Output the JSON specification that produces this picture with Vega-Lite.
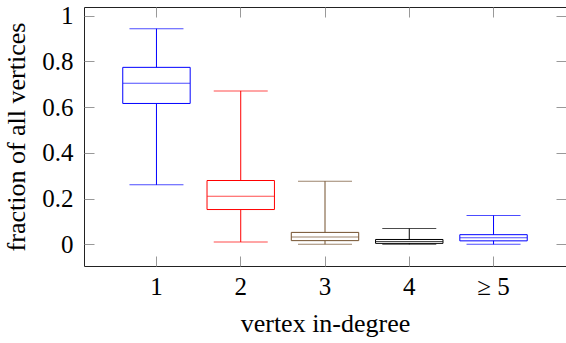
{
  "$schema": "https://vega.github.io/schema/vega-lite/v6.json",
  "autosize": "none",
  "padding": {"left": 84, "top": 7, "right": 0, "bottom": 77},
  "width": 482,
  "height": 259,
  "background": "white",
  "config": {
    "view": {"stroke": "#222", "strokeWidth": 1, "fill": "transparent"},
    "style": {"cell": {"fill": "transparent", "stroke": "#222"}},
    "font": "Liberation Serif",
    "axis": {
      "domain": false,
      "grid": false
    }
  },
  "data": {
    "values": [
      {"deg": "1", "lower": 0.26, "q1": 0.616, "median": 0.704, "q3": 0.774, "upper": 0.943},
      {"deg": "2", "lower": 0.01, "q1": 0.152, "median": 0.21, "q3": 0.279, "upper": 0.671},
      {"deg": "3", "lower": 0.0, "q1": 0.016, "median": 0.032, "q3": 0.052, "upper": 0.276},
      {"deg": "4", "lower": 0.0, "q1": 0.004, "median": 0.012, "q3": 0.021, "upper": 0.069},
      {"deg": "≥ 5", "lower": 0.0, "q1": 0.015, "median": 0.029, "q3": 0.042, "upper": 0.126}
    ]
  },
  "resolve": {"axis": {"x": "independent", "y": "independent"}},
  "layer": [
    {
      "mark": {"type": "rule", "strokeWidth": 1},
      "encoding": {
        "x": {"field": "deg", "type": "nominal", "sort": null,
          "scale": {"type": "band", "paddingInner": 0, "paddingOuter": 0.36},
          "axis": {"orient": "bottom", "title": "vertex in-degree", "labelAngle": 0, "labelPadding": 8, "titlePadding": 11, "bandPosition": 0.5,
            "ticks": true, "tickColor": "#999", "tickWidth": 1, "tickSize": 10, "offset": -10, "zindex": 2,
            "labelFont": "Liberation Serif", "labelFontSize": 25, "labelColor": "black",
            "titleFont": "Liberation Serif", "titleFontSize": 26, "titleFontWeight": "normal", "titleColor": "black"}},
        "y": {"field": "lower", "type": "quantitative",
          "scale": {"domain": [-0.095, 1.038], "nice": false, "zero": false},
          "axis": {"orient": "left", "title": "fraction of all vertices", "values": [0, 0.2, 0.4, 0.6, 0.8, 1], "format": "~g", "labelPadding": 11, "titlePadding": 12,
            "ticks": true, "tickColor": "#999", "tickWidth": 1, "tickSize": 10, "offset": -10, "zindex": 2,
            "labelFont": "Liberation Serif", "labelFontSize": 25, "labelColor": "black",
            "titleFont": "Liberation Serif", "titleFontSize": 26, "titleFontWeight": "normal", "titleColor": "black"}},
        "y2": {"field": "upper"},
        "color": {"field": "deg", "type": "nominal", "sort": null, "legend": null,
          "scale": {"domain": ["1", "2", "3", "4", "≥ 5"], "range": ["#0000ff", "#ff0000", "#73502d", "#000000", "#0000ff"]}}
      }
    },
    {
      "mark": {"type": "bar", "fill": "white", "strokeWidth": 1, "width": {"band": 0.8}},
      "encoding": {
        "x": {"field": "deg", "type": "nominal", "sort": null,
          "axis": {"orient": "top", "title": null, "labels": false, "bandPosition": 0.5,
            "ticks": true, "tickColor": "#999", "tickWidth": 1, "tickSize": 10, "offset": -10, "zindex": 2}},
        "y": {"field": "q1", "type": "quantitative",
          "axis": {"orient": "right", "title": null, "labels": false, "values": [0, 0.2, 0.4, 0.6, 0.8, 1],
            "ticks": true, "tickColor": "#999", "tickWidth": 1, "tickSize": 10, "offset": -10, "zindex": 2}},
        "y2": {"field": "q3"},
        "stroke": {"field": "deg", "type": "nominal", "sort": null, "legend": null,
          "scale": {"domain": ["1", "2", "3", "4", "≥ 5"], "range": ["#0000ff", "#ff0000", "#73502d", "#000000", "#0000ff"]}}
      }
    },
    {
      "mark": {"type": "tick", "thickness": 1, "size": 67},
      "encoding": {
        "x": {"field": "deg", "type": "nominal", "sort": null, "axis": null},
        "y": {"field": "median", "type": "quantitative", "axis": null},
        "color": {"field": "deg", "type": "nominal", "sort": null, "legend": null}
      }
    },
    {
      "mark": {"type": "tick", "thickness": 1, "size": 54},
      "encoding": {
        "x": {"field": "deg", "type": "nominal", "sort": null, "axis": null},
        "y": {"field": "lower", "type": "quantitative", "axis": null},
        "color": {"field": "deg", "type": "nominal", "sort": null, "legend": null}
      }
    },
    {
      "mark": {"type": "tick", "thickness": 1, "size": 54},
      "encoding": {
        "x": {"field": "deg", "type": "nominal", "sort": null, "axis": null},
        "y": {"field": "upper", "type": "quantitative", "axis": null},
        "color": {"field": "deg", "type": "nominal", "sort": null, "legend": null}
      }
    }
  ]
}
